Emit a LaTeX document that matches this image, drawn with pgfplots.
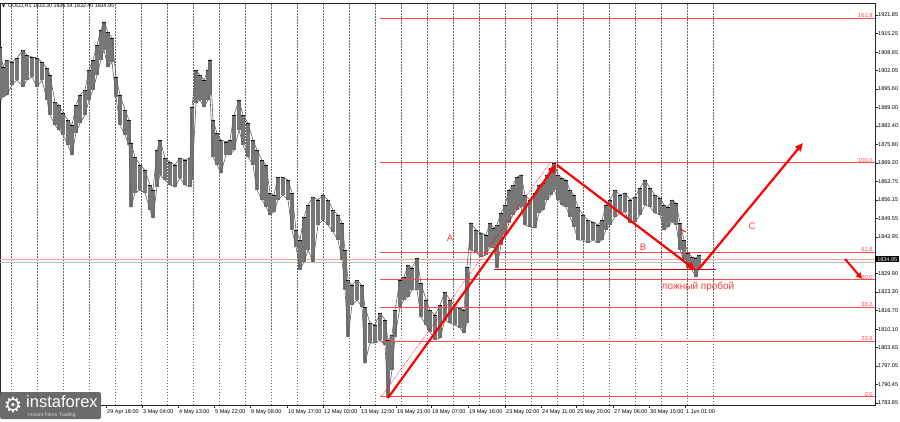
\documentclass[border=0pt]{standalone}
\usepackage{fontspec}
\setmainfont{Liberation Sans}
\newfontfamily\djv{DejaVu Sans}
\usepackage{pgfplots}
\pgfplotsset{compat=1.18}
\usepackage{pgfplotstable}
\usetikzlibrary{arrows.meta}
\definecolor{fibred}{HTML}{FF4B4B}
\definecolor{arrred}{HTML}{FF0000}
\definecolor{txtred}{HTML}{FF3B3B}
\definecolor{candle}{HTML}{777777}
\definecolor{pline}{HTML}{F4A08A}

\pgfplotstableread{
x hi lo
0 1910.5 1891.6
3 1903.4 1892.7
7 1905.9 1893.4
12 1905.1 1897.0
17 1906.6 1898.7
23 1909.4 1896.3
27 1907.6 1898.7
32 1906.9 1899.8
37 1906.6 1896.3
42 1905.1 1898.7
47 1903.0 1891.6
50 1900.5 1886.3
55 1890.9 1882.7
59 1889.8 1881.0
63 1887.0 1879.2
68 1884.5 1875.6
72 1882.7 1872.1
76 1889.8 1879.9
80 1893.4 1883.4
85 1895.2 1886.3
89 1902.3 1891.6
93 1905.9 1895.2
97 1911.2 1900.5
101 1916.5 1905.9
104 1919.4 1909.4
108 1915.8 1903.4
112 1913.7 1905.1
116 1899.8 1892.7
120 1893.4 1882.7
125 1888.1 1879.2
129 1884.5 1875.6
131 1876.3 1853.6
135 1871.4 1858.6
140 1868.5 1859.6
145 1866.7 1858.6
150 1861.4 1852.5
153 1859.6 1849.7
157 1873.8 1860.7
160 1877.4 1865.0
165 1871.0 1863.2
170 1869.6 1861.4
175 1868.5 1860.7
180 1871.0 1863.9
185 1870.3 1861.4
190 1871.0 1860.7
192 1889.1 1863.2
196 1902.3 1890.6
200 1900.5 1891.6
204 1898.7 1889.1
208 1902.3 1891.6
210 1905.9 1893.4
213 1884.5 1871.4
217 1879.9 1868.5
221 1877.4 1865.7
226 1876.7 1872.1
230 1877.4 1872.1
234 1886.3 1873.8
239 1891.6 1881.0
243 1886.3 1875.6
248 1883.4 1871.4
253 1877.4 1868.5
257 1873.8 1859.6
262 1870.3 1856.1
266 1868.5 1853.6
270 1858.6 1850.7
274 1857.8 1851.8
278 1864.2 1856.1
283 1864.2 1857.8
288 1863.2 1856.1
292 1858.6 1845.4
296 1845.4 1839.3
300 1841.8 1831.2
304 1850.0 1834.0
308 1854.3 1838.3
313 1857.1 1834.0
318 1856.1 1847.2
323 1857.8 1848.9
328 1856.1 1847.2
333 1852.5 1844.7
338 1850.7 1841.8
342 1847.9 1834.7
345 1838.3 1824.1
348 1827.6 1807.3
352 1825.8 1818.7
357 1827.6 1820.5
362 1825.8 1818.0
365 1818.0 1798.1
370 1812.3 1805.2
375 1811.6 1805.2
380 1815.9 1806.3
385 1813.4 1804.5
388 1806.3 1785.6
392 1808.0 1795.6
395 1816.9 1807.3
400 1827.6 1818.0
404 1828.7 1820.5
408 1832.9 1821.6
412 1831.9 1824.1
417 1835.4 1824.1
421 1826.5 1814.4
426 1820.5 1811.6
430 1816.9 1809.1
435 1815.2 1806.3
440 1818.7 1807.0
445 1823.3 1813.4
450 1820.5 1812.3
455 1818.0 1811.6
460 1817.6 1810.5
464 1816.9 1808.8
467 1832.2 1812.3
471 1847.9 1838.3
476 1845.4 1837.6
481 1844.3 1835.8
486 1843.6 1836.5
490 1847.9 1839.3
494 1846.1 1839.0
497 1847.2 1831.9
501 1851.4 1840.1
505 1854.3 1843.6
509 1859.6 1847.9
513 1861.4 1850.7
517 1864.2 1852.5
521 1865.0 1853.6
525 1857.8 1847.2
530 1856.1 1846.5
535 1858.6 1846.1
539 1861.4 1851.4
543 1862.1 1852.5
547 1865.0 1856.1
551 1867.4 1857.8
554 1869.2 1859.6
558 1865.0 1856.1
562 1863.9 1854.3
566 1863.2 1853.6
570 1859.6 1850.0
574 1857.8 1846.5
578 1853.6 1841.8
583 1850.7 1841.8
588 1848.9 1840.8
593 1848.2 1841.8
598 1847.2 1840.8
602 1848.9 1841.8
606 1854.3 1845.4
610 1856.1 1847.2
615 1859.6 1850.0
620 1857.8 1851.4
625 1858.6 1851.8
630 1856.1 1847.9
635 1857.1 1848.2
640 1860.3 1850.7
645 1863.2 1854.3
650 1860.3 1853.6
655 1857.8 1851.4
660 1856.8 1850.7
664 1854.3 1845.4
668 1853.6 1846.5
672 1856.1 1848.2
676 1855.0 1847.2
680 1847.9 1838.3
684 1841.8 1834.7
688 1837.2 1832.2
692 1835.8 1831.2
696 1835.4 1828.7
699 1836.5 1831.9
}\gold

\begin{document}
\begin{tikzpicture}
\fill[white] (0,0) rectangle (900pt,421pt);
\begin{axis}[
  at={(0pt,16pt)}, anchor=south west,
  scale only axis, width=875pt, height=402pt,
  xmin=0, xmax=875, ymin=1783.14, ymax=1926.12,
  axis line style={black!85, line width=0.5pt},
  clip=false,
  xtick pos=bottom, ytick pos=right,
  tick align=outside,
  major tick length=2.5pt,
  tick style={black!85, line width=0.4pt},
  xtick={106,142,178,214,250,287,323,360,396,431,468,505,541,576,613,649,685},
  xticklabels={29 Apr 18:00, 3 May 04:00, 4 May 13:00, 5 May 22:00, 9 May 08:00, 10 May 17:00, 12 May 03:00, 13 May 12:00, 16 May 21:00, 18 May 07:00, 19 May 16:00, 23 May 02:00, 24 May 11:00, 25 May 20:00, 27 May 06:00, 30 May 15:00, 1 Jun 01:00},
  xticklabel style={anchor=north west, font=\fontsize{5.5}{6}\selectfont, inner sep=0.5pt, xshift=0.5pt, yshift=-1.5pt},
  ytick={1921.85,1915.25,1908.65,1902.05,1895.60,1889.00,1882.40,1875.80,1869.20,1862.75,1856.15,1849.55,1842.95,1829.90,1823.30,1816.70,1810.10,1803.65,1797.05,1790.45,1783.85},
  yticklabels={1921.85,1915.25,1908.65,1902.05,1895.60,1889.00,1882.40,1875.80,1869.20,1862.75,1856.15,1849.55,1842.95,1829.90,1823.30,1816.70,1810.10,1803.65,1797.05,1790.45,1783.85},
  yticklabel style={anchor=west, font=\fontsize{5.5}{6}\selectfont, inner sep=0.5pt},
]
% vertical time grid
\pgfplotsinvokeforeach{11.5,37.5,...,713.5}{
  \draw[black!60, dash pattern=on 1.5pt off 1.5pt, line width=0.5pt] (axis cs:#1,1783.14) -- (axis cs:#1,1926.12);
}
% price lines
\addplot[pline, line width=0.9pt] coordinates {(0,1834.95) (875,1834.95)};
\addplot[black!25, line width=0.7pt] coordinates {(0,1833.8) (875,1833.8)};
% candles: high-low bars and envelopes
\addplot[draw=none, mark=none, forget plot, error bars/.cd, y dir=plus, y explicit,
  error bar style={draw=candle, line width=4.8pt, solid}]
  table[x=x, y=lo, y error plus expr=\thisrow{hi}-\thisrow{lo}]{\gold};
\addplot[draw=candle!80!black, line width=0.6pt] table[x=x,y=hi]{\gold};
\addplot[draw=candle!80!black, line width=0.6pt] table[x=x,y=lo]{\gold};
% fibonacci
\addplot[fibred, line width=1pt] coordinates {(380,1785.99) (875,1785.99)};
\addplot[fibred, line width=1pt] coordinates {(380,1805.63) (875,1805.63)};
\addplot[fibred, line width=1pt] coordinates {(380,1817.78) (875,1817.78)};
\addplot[fibred, line width=1pt] coordinates {(380,1827.60) (875,1827.60)};
\addplot[fibred, line width=1pt] coordinates {(380,1837.43) (875,1837.43)};
\addplot[fibred, line width=1pt] coordinates {(380,1869.22) (875,1869.22)};
\addplot[fibred, line width=1pt] coordinates {(380,1920.66) (875,1920.66)};
\foreach \lv/\tx in {1785.99/0.0,1805.63/23.6,1817.78/38.2,1827.60/50.0,1837.43/61.8,1869.22/100.0,1920.66/161.8}{
  \edef\temp{\noexpand\node[anchor=south east, text=fibred, font=\noexpand\fontsize{5.8}{6}\noexpand\selectfont, inner sep=0.6pt] at (axis cs:873.5,\lv) {\tx};}
  \temp
}
% horizontal support line
\addplot[red!80!black, line width=1pt] coordinates {(494,1831.51) (716,1831.51)};
% trend lines
\addplot[arrred, line width=0.6pt, densely dotted] coordinates {(381,1785.99) (550,1869.22)};
\addplot[arrred, line width=2.2pt, -{Triangle[length=8pt,width=7pt]}] coordinates {(388,1785.63) (556,1868.5)};
\addplot[arrred, line width=2.2pt, -{Triangle[length=8pt,width=7pt]}] coordinates {(557,1868.5) (695,1831.3)};
\addplot[arrred, line width=2.2pt, -{Triangle[length=8pt,width=7pt]}] coordinates {(698,1831.16) (803,1876.33)};
\addplot[arrred, line width=2pt, -{Triangle[length=6pt,width=6pt]}] coordinates {(845,1835.07) (862,1828.0)};
\addplot[arrred, line width=1pt] coordinates {(680,1845.74) (686,1844.67)};
% texts
\node[text=txtred, font=\fontsize{9.5}{10}\selectfont] at (axis cs:450,1842.54) {A};
\node[text=txtred, font=\fontsize{9.5}{10}\selectfont] at (axis cs:643,1839.34) {B};
\node[text=txtred, font=\fontsize{9.5}{10}\selectfont] at (axis cs:752,1846.81) {C};
\node[text=txtred, font=\fontsize{10}{11}\selectfont] at (axis cs:698,1825.3) {ложный пробой};
% current price box
\node[anchor=west, fill=black, text=white, font=\fontsize{5.5}{6}\selectfont, inner xsep=1pt, inner ysep=1pt, minimum width=24pt] at (axis cs:875,1834.95) {1834.95};
\end{axis}
% header
\node[anchor=west, font=\djv\fontsize{4}{4}\selectfont, inner sep=0pt] at (2pt,415pt) {▼};
\node[anchor=west, font=\fontsize{5.3}{6}\selectfont, inner sep=0pt] at (8pt,415pt) {GOLD,H1 1833.30 1836.54 1832.40 1834.95};
% logo
\fill[black!58, rounded corners=2pt] (0pt,2pt) rectangle (101pt,29pt);
\node[text=white, font=\djv\fontsize{21}{21}\selectfont, inner sep=0pt] at (13pt,16pt) {⚙};
\node[text=white, anchor=west, font=\fontsize{16.5}{17}\selectfont, inner sep=0pt] at (26pt,19.5pt) {instaforex};
\node[text=white!85!black, anchor=west, font=\fontsize{5}{5}\selectfont, inner sep=0pt] at (28pt,5.8pt) {Instant Forex Trading};
\pgfresetboundingbox
\path[use as bounding box] (0,0) rectangle (900pt,421pt);
\end{tikzpicture}
\end{document}
